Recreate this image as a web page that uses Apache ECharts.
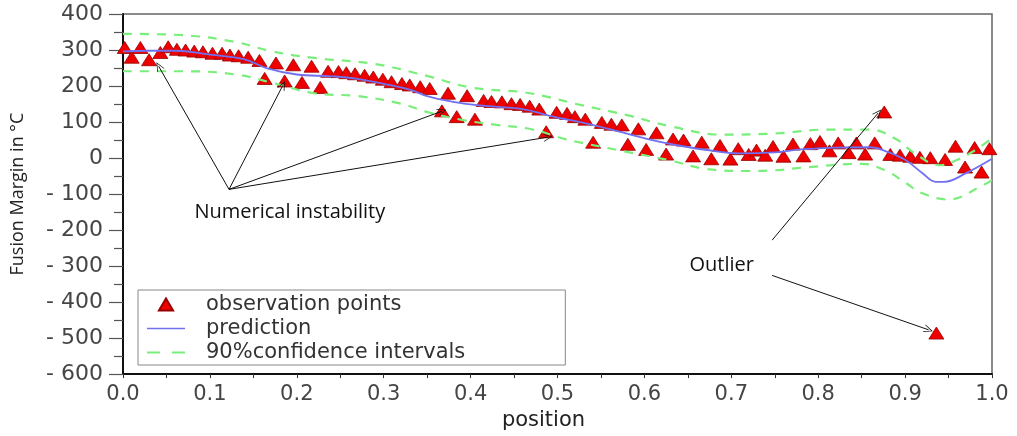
<!DOCTYPE html>
<html>
<head>
<meta charset="utf-8">
<script src="https://cdn.jsdelivr.net/npm/echarts@6/dist/echarts.min.js"></script>
<style>
html,body{margin:0;padding:0;background:#fff;}
#chart{width:1017px;height:436px;}
</style>
</head>
<body>
<div id="chart"></div>
<script>
// observation points
const obsX = [0.002,0.010,0.020,0.030,0.043,0.052,0.062,0.072,0.082,0.092,
  0.103,0.114,0.123,0.133,0.144,0.157,0.163,0.176,0.186,0.196,
  0.206,0.217,0.227,0.236,0.248,0.257,0.267,0.278,0.288,0.299,
  0.309,0.321,0.330,0.342,0.353,0.367,0.374,0.384,0.396,0.405,
  0.415,0.424,0.436,0.447,0.457,0.468,0.479,0.487,0.499,0.511,
  0.520,0.532,0.541,0.551,0.562,0.574,0.581,0.593,0.602,0.614,
  0.625,0.633,0.645,0.656,0.666,0.677,0.687,0.699,0.708,0.720,
  0.729,0.739,0.748,0.760,0.771,0.783,0.791,0.802,0.813,0.823,
  0.835,0.844,0.854,0.865,0.876,0.883,0.894,0.906,0.917,0.929,
  0.936,0.946,0.958,0.969,0.980,0.988,0.997];
const obsY = [307,280,307,273,293,309,302,300,297,295,
  291,291,286,284,280,271,221,264,214,259,
  210,255,196,241,240,237,234,230,225,219,
  212,207,203,198,193,131,180,115,173,108,
  160,157,156,151,149,144,136,73,127,124,
  115,108,44,99,94,92,38,81,24,70,
  11,53,50,6,44,-2,35,-3,26,10,
  22,8,32,5,39,6,40,46,20,42,
  15,42,11,42,128,10,8,5,2,1,
  -486,-4,33,-25,29,-39,26];

// prediction curve
const predX = [0.00,0.03,0.06,0.10,0.14,0.165,0.20,0.24,0.27,0.30,0.33,0.35,0.38,0.41,0.46,0.49,0.54,0.57,0.60,0.63,0.67,0.71,0.75,0.78,0.82,0.86,0.88,0.90,0.92,0.935,0.945,0.97,1.00];
const predY = [296,298,298,287,274,250,232,227,220,206,190,172,156,146,136,118,92,74,55,39,23,13,16,24,29,30,17,-5,-42,-66,-66,-42,-2];

// 90% confidence intervals
const ciUpX = [0.00,0.07,0.13,0.17,0.22,0.29,0.35,0.40,0.46,0.49,0.52,0.58,0.63,0.69,0.75,0.81,0.86,0.89,0.91,0.94,0.96,0.98,1.00];
const ciUpY = [345,341,322,297,278,261,228,196,183,169,151,119,88,65,68,79,79,52,15,-20,-5,21,55];
const ciLoX = [0.00,0.07,0.13,0.17,0.22,0.27,0.32,0.35,0.39,0.43,0.47,0.51,0.57,0.63,0.67,0.72,0.75,0.79,0.85,0.88,0.90,0.92,0.95,0.99,1.00];
const ciLoY = [241,241,232,210,180,172,151,128,106,92,80,52,22,-7,-30,-36,-34,-25,-16,-38,-68,-98,-115,-75,-61];

// annotations (data coordinates)
const arrowFrom = [[0.122,-87],[0.122,-87],[0.122,-87],[0.122,-87],[0.747,-228],[0.747,-326]];
const arrowTo   = [[0.041,255],[0.184,202],[0.367,130],[0.489,58],[0.869,125],[0.927,-477]];
const noteText = ['Numerical instability','Outlier'];
const notePos  = [[0.192,-150],[0.689,-298]];

const seriesNames = ['observation points','prediction','90%confidence intervals'];

const pairs = (xs, ys) => xs.map((x, i) => [x, ys[i]]);

const chart = echarts.init(document.getElementById('chart'), null, {renderer:'canvas'});
const axisColor = '#454545';
const predColor = '#7070f0';
const ciColor = '#7aee7a';
const arrowHead = 'path://M0,10 L5,0 L10,10 L9,10 L5,2 L1,10 Z';

chart.setOption({
  animation: false,
  backgroundColor: '#fff',
  grid: {left:123, right:25, top:14, bottom:53, show:true, borderColor:'#666', borderWidth:1.5, containLabel:false},
  xAxis: {
    type:'value', min:0, max:1, interval:0.1,
    name:'position', nameLocation:'middle', nameGap:27,
    nameTextStyle:{fontFamily:'DejaVu Sans', fontSize:21, color:'#222', padding:[0,28,0,0]},
    axisLine:{show:true, onZero:false, lineStyle:{color:'#111', width:2}},
    axisTick:{show:true, length:4, lineStyle:{color:'#333'}},
    minorTick:{show:true, splitNumber:2, length:4, lineStyle:{color:'#333'}},
    splitLine:{show:false}, minorSplitLine:{show:false},
    axisLabel:{fontFamily:'DejaVu Sans', fontSize:21, color:axisColor, margin:10,
      formatter: v => v.toFixed(1)}
  },
  yAxis: {
    type:'value', min:-600, max:400, interval:100,
    name:'Fusion Margin in °C', nameLocation:'middle', nameGap:96, nameRotate:90,
    nameTextStyle:{fontFamily:'Open Sans', fontSize:18, color:'#222'},
    axisLine:{show:true, onZero:false, lineStyle:{color:'#111', width:2}},
    axisTick:{show:true, length:14, lineStyle:{color:'#555', width:1.2}},
    minorTick:{show:true, splitNumber:2, length:9, lineStyle:{color:'#555', width:1.2}},
    splitLine:{show:false}, minorSplitLine:{show:false},
    axisLabel:{fontFamily:'DejaVu Sans', fontSize:22, color:axisColor, margin:20,
      formatter: v => v < 0 ? '- ' + Math.abs(v) : String(v)}
  },
  legend: {
    orient:'vertical', left:138, top:290,
    data:[
      {name:seriesNames[0], icon:'path://M5,0 L10,8.5 L0,8.5 Z'},
      {name:seriesNames[1], icon:'path://M0,0 L38,0 L38,1.6 L0,1.6 Z'},
      {name:seriesNames[2], icon:'path://M0,0 L13,0 L13,2 L0,2 Z M25,0 L38,0 L38,2 L25,2 Z'}
    ],
    itemWidth:38, itemHeight:12, itemGap:3,
    padding:[4,100,2,9],
    borderColor:'#888', borderWidth:1, backgroundColor:'#fff',
    textStyle:{fontFamily:'DejaVu Sans', fontSize:21, color:'#333', padding:[0,0,0,16]},
    selectedMode:false
  },
  series: [
    {
      name:seriesNames[0], type:'scatter', data:pairs(obsX, obsY),
      symbol:'triangle', symbolSize:[15,12],
      itemStyle:{color:'#ee0000', borderColor:'#990000', borderWidth:0.8, opacity:1},
      z:2
    },
    {
      name:seriesNames[1], type:'line', data:pairs(predX, predY),
      symbol:'none', smooth:0.4,
      itemStyle:{color:predColor},
      lineStyle:{color:predColor, width:1.8},
      z:3
    },
    {
      name:seriesNames[2], type:'line', data:pairs(ciUpX, ciUpY),
      symbol:'none', smooth:0.4,
      itemStyle:{color:ciColor},
      lineStyle:{color:ciColor, width:2.2, type:[9,8]},
      z:3
    },
    {
      name:seriesNames[2], type:'line', data:pairs(ciLoX, ciLoY),
      symbol:'none', smooth:0.4,
      itemStyle:{color:ciColor},
      lineStyle:{color:ciColor, width:2.2, type:[9,8]},
      z:3
    },
    {
      name:'annotations', type:'line', data:[], symbol:'none', silent:true, z:4,
      markLine:{
        silent:true, animation:false,
        symbol:['none', arrowHead], symbolSize:[8,9],
        lineStyle:{color:'#111', width:1, type:'solid'},
        label:{show:false},
        data: arrowFrom.map((f, i) => [{coord:f}, {coord:arrowTo[i]}])
      },
      markPoint:{
        silent:true, animation:false,
        symbol:'circle', symbolSize:1, itemStyle:{color:'rgba(0,0,0,0)'},
        label:{show:true, position:'inside', fontFamily:'Open Sans', fontSize:20, color:'#111',
          formatter: p => p.name},
        data: noteText.map((t, i) => ({name:t, coord:notePos[i]}))
      }
    }
  ]
});
</script>
</body>
</html>
